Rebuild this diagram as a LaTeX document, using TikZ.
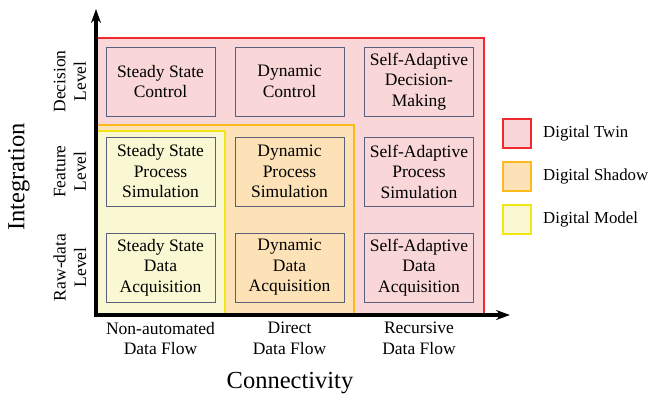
\documentclass[tikz,border=0pt]{standalone}
\usepackage{fontspec}
\setmainfont{Liberation Serif}
\usetikzlibrary{arrows.meta}

\definecolor{twinfill}{HTML}{F9D6D8}
\definecolor{twinline}{HTML}{EE2A2F}
\definecolor{shadowfill}{HTML}{FDE2B8}
\definecolor{shadowline}{HTML}{FDBA1C}
\definecolor{modelfill}{HTML}{FAF8D2}
\definecolor{modelline}{HTML}{F2E614}
\definecolor{boxline}{HTML}{5B5F7E}

\begin{document}
\begin{tikzpicture}[x=1pt, y=-1pt, font=\fontsize{17.5}{20.5}\selectfont,
    cell/.style={draw=boxline, line width=0.9pt, minimum width=109pt, minimum height=69pt, align=center, inner sep=0pt},
    levellabel/.style={rotate=90, align=center},
    flowlabel/.style={align=center},
    axislabel/.style={font=\fontsize{24.5}{28}\selectfont},
    legendbox/.style={line width=2pt, minimum width=28pt, minimum height=29pt, inner sep=0pt},
    legendtext/.style={anchor=west, inner sep=0pt, font=\fontsize{16.8}{20}\selectfont}]
    \useasboundingbox (0,0) rectangle (651,400);

    % regions
    \draw[twinline, fill=twinfill, line width=1.5pt] (96,38) rectangle (484,315);
    \draw[shadowline, fill=shadowfill, line width=1.5pt] (96,125) rectangle (354,315);
    \draw[modelline, fill=modelfill, line width=1.5pt] (96,131) rectangle (225,315);

    % cells
    \node[cell] (ssc)  at (160.5,81.5) {Steady State\\Control};
    \node[cell] (dc)   at (289.5,81.5) {Dynamic\\Control};
    \node[cell] (sadm) at (419,81.5)   {Self-Adaptive\\Decision-\\Making};
    \node[cell] (ssps) at (160.5,171.5) {Steady State\\Process\\Simulation};
    \node[cell] (dps)  at (289.5,171.5) {Dynamic\\Process\\Simulation};
    \node[cell] (saps) at (419,171.5)   {Self-Adaptive\\Process\\Simulation};
    \node[cell] (ssda) at (160.5,267.5) {Steady State\\Data\\Acquisition};
    \node[cell] (dda)  at (289.5,267.5) {Dynamic\\Data\\Acquisition};
    \node[cell] (sada) at (419,267.5)   {Self-Adaptive\\Data\\Acquisition};

    % axes
    \coordinate (origin) at (96,315);
    \coordinate (ytop) at (96,9);
    \coordinate (xend) at (510,315);
    \draw[line width=4pt, line join=miter, {Stealth[length=14pt,width=10pt]}-{Stealth[length=14pt,width=10pt]}] (ytop) -- (origin) -- (xend);

    % level labels
    \node[levellabel] (decision) at (70,81.5)  {Decision\\Level};
    \node[levellabel] (feature)  at (70,171.5) {Feature\\Level};
    \node[levellabel] (rawdata)  at (70,267.5) {Raw-data\\Level};
    \node[axislabel, rotate=90] (integration) at (19,177) {Integration};

    % flow labels
    \node[flowlabel] (nonauto)   at (160.5,338.5) {Non-automated\\Data Flow};
    \node[flowlabel] (direct)    at (289.5,338.5) {Direct\\Data Flow};
    \node[flowlabel] (recursive) at (419,338.5)   {Recursive\\Data Flow};
    \node[axislabel] (connectivity) at (290,383) {Connectivity};

    % legend
    \node[legendbox, draw=twinline, fill=twinfill]     (twin)   at (517,133)   {};
    \node[legendbox, draw=shadowline, fill=shadowfill] (shadow) at (517,176.5) {};
    \node[legendbox, draw=modelline, fill=modelfill]   (model)  at (517,219)   {};
    \node[legendtext] (twintext)   at (543,133)   {Digital Twin};
    \node[legendtext] (shadowtext) at (543,176.5) {Digital Shadow};
    \node[legendtext] (modeltext)  at (543,219)   {Digital Model};
\end{tikzpicture}
\end{document}
